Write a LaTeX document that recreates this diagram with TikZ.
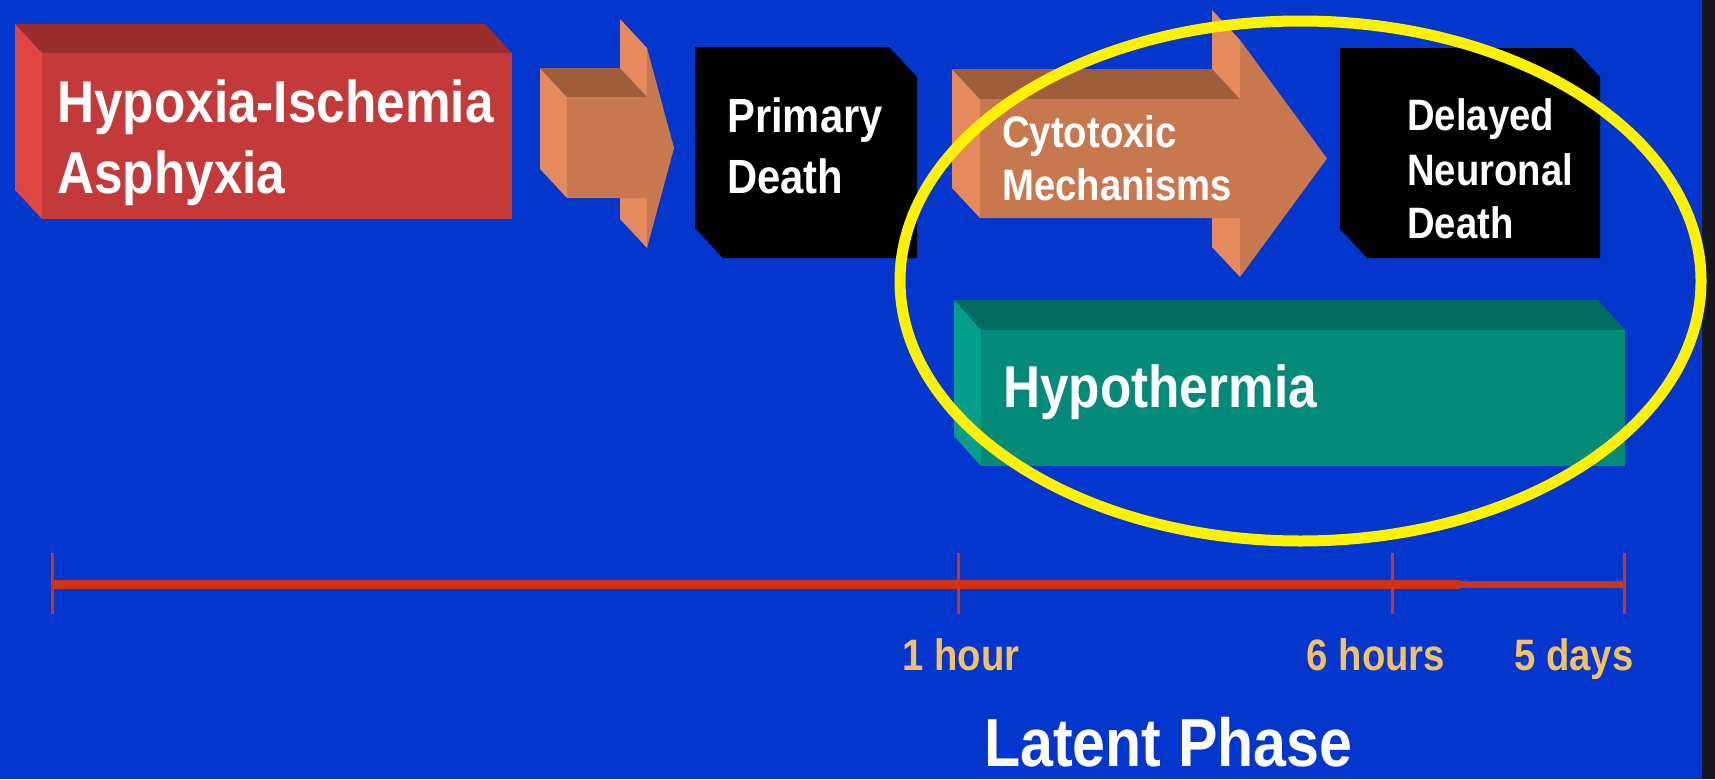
\documentclass[tikz,border=0pt]{standalone}
\usepackage{fontspec}
\newfontfamily\slide{Liberation Sans}[FakeStretch=0.87]
\usetikzlibrary{calc,shapes.geometric}
\definecolor{bg}{RGB}{3,54,204}
\definecolor{strip}{RGB}{22,22,30}
\definecolor{redfront}{RGB}{196,58,58}
\definecolor{redtop}{RGB}{155,45,45}
\definecolor{redside}{RGB}{226,70,66}
\definecolor{orfront}{RGB}{200,120,78}
\definecolor{ortop}{RGB}{158,94,58}
\definecolor{orside}{RGB}{228,138,92}
\definecolor{tealfront}{RGB}{3,138,120}
\definecolor{tealtop}{RGB}{2,108,96}
\definecolor{tealside}{RGB}{4,158,138}
\definecolor{tline}{RGB}{204,52,20}
\definecolor{tlabel}{RGB}{244,194,100}
\begin{document}
\begin{tikzpicture}[x=1pt,y=-1pt,
  lbl/.style={anchor=base west, inner sep=0pt, text=white},
  big/.style={font=\slide\bfseries\fontsize{59}{61}\selectfont},
  mid/.style={font=\slide\bfseries\fontsize{48}{50}\selectfont},
  sml/.style={font=\slide\bfseries\fontsize{44}{46}\selectfont},
  tick/.style={anchor=base, inner sep=0pt, text=tlabel, font=\slide\bfseries\fontsize{44}{46}\selectfont},
  axis/.style={draw=tline, line width=9pt},
  tickline/.style={draw=tline, line width=3pt}
]
\useasboundingbox (0,0) rectangle (1715,779);
\fill[bg] (0,0) rectangle (1715,779);
\fill[strip] (1702,0) rectangle (1715,779);

% Hypoxia-Ischemia box
\fill[redtop] (15,24) -- (485,24) -- (512,53) -- (42,53) -- cycle;
\fill[redside] (15,24) -- (42,53) -- (42,219) -- (15,190) -- cycle;
\fill[redfront] (42,53) rectangle (512,219);
\node[lbl,big] (hyp1) at (57,122) {Hypoxia-Ischemia};
\node[lbl,big] (hyp2) at (57,193) {Asphyxia};

% arrow 1
\fill[orside] (540,68) -- (567,97) -- (567,198) -- (540,169) -- cycle;
\fill[ortop] (540,68) -- (620,68) -- (647,97) -- (567,97) -- cycle;
\fill[orside] (620,19) -- (647,48) -- (647,97) -- (620,68) -- cycle;
\fill[orside] (620,169) -- (647,198) -- (647,248) -- (620,219) -- cycle;
\fill[orfront] (567,97) -- (647,97) -- (647,48) -- (674,148) -- (647,248) -- (647,198) -- (567,198) -- cycle;

% Primary Death
\fill[black] (695,47) -- (889,47) -- (917,77) -- (917,258) -- (723,258) -- (695,228) -- cycle;
\node[lbl,mid] (pd1) at (727,132) {Primary};
\node[lbl,mid] (pd2) at (727,193) {Death};

% arrow 2
\fill[orside] (952,69) -- (980,99) -- (980,218) -- (952,188) -- cycle;
\fill[ortop] (952,69) -- (1212,69) -- (1240,99) -- (980,99) -- cycle;
\fill[orside] (1212,10) -- (1240,40) -- (1240,99) -- (1212,69) -- cycle;
\fill[orside] (1212,188) -- (1240,218) -- (1240,277) -- (1212,247) -- cycle;
\fill[orfront] (980,99) -- (1240,99) -- (1240,40) -- (1327,158.5) -- (1240,277) -- (1240,218) -- (980,218) -- cycle;
\node[lbl,sml] (cy1) at (1002,147) {Cytotoxic};
\node[lbl,sml] (cy2) at (1002,200) {Mechanisms};

% Delayed Neuronal Death
\fill[black] (1340,48) -- (1573,48) -- (1600,77) -- (1600,258) -- (1367,258) -- (1340,229) -- cycle;
\node[lbl,sml] (dn1) at (1407,130) {Delayed};
\node[lbl,sml] (dn2) at (1407,185) {Neuronal};
\node[lbl,sml] (dn3) at (1407,238) {Death};

% Hypothermia
\fill[tealtop] (954,300) -- (1598,300) -- (1625,330) -- (981,330) -- cycle;
\fill[tealside] (954,300) -- (981,330) -- (981,466) -- (954,436) -- cycle;
\fill[tealfront] (981,330) rectangle (1625,466);
\node[lbl,big] (hth) at (1003,407) {Hypothermia};

% timeline
\coordinate (t0) at (52,584);
\coordinate (t1) at (958,584);
\coordinate (t2) at (1392,584);
\coordinate (t3) at (1624,584);
\coordinate (t25) at (1460,584);
\draw[axis] (t0) -- (t25);
\draw[draw=tline, line width=7pt] (t25) -- (t3);
\foreach \t in {t0,t1,t2,t3}
  \draw[tickline] ($(\t)+(0,-31)$) -- ($(\t)+(0,30)$);
\node[tick] (l1) at (961,670) {1 hour};
\node[tick] (l2) at (1376,670) {6 hours};
\node[tick] (l3) at (1574,670) {5 days};
\node[lbl,font=\slide\bfseries\fontsize{68}{70}\selectfont] (lp) at (984,766) {Latent Phase};

% yellow ellipse
\node[ellipse, draw=yellow, line width=11pt, minimum width=801pt, minimum height=520pt, inner sep=0pt] (ring) at (1300.5,281) {};
\end{tikzpicture}
\end{document}
